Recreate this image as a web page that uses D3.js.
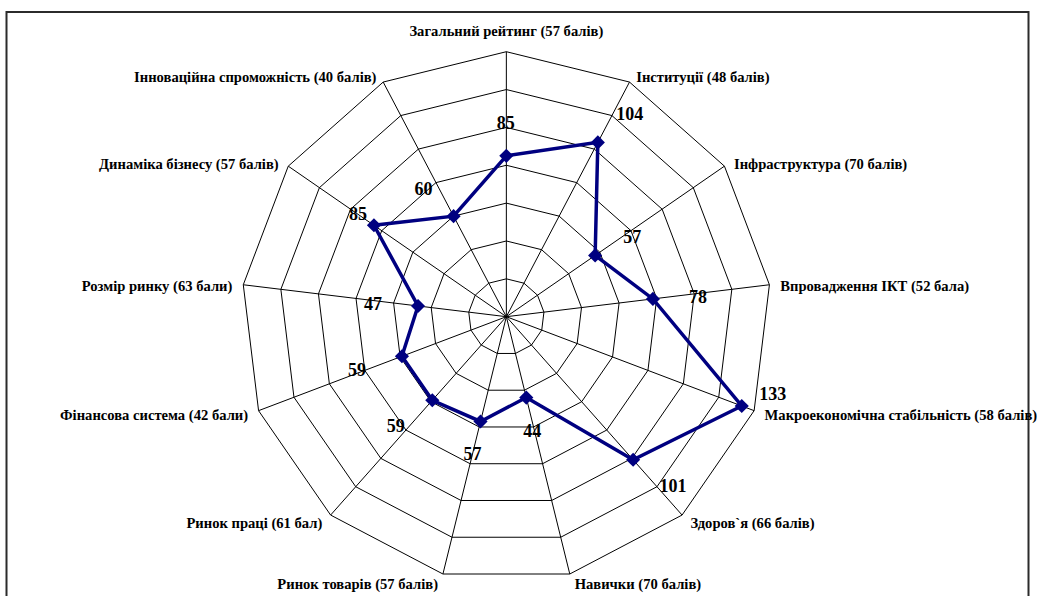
<!DOCTYPE html>
<html lang="uk">
<head>
<meta charset="utf-8">
<script src="https://cdn.jsdelivr.net/npm/d3@7"></script>
<style>
  html, body { margin: 0; padding: 0; background: #fff; }
  svg { display: block; }
  .axis-label { font-family: "Liberation Serif", "Times New Roman", serif; font-weight: bold; font-size: 14.6px; fill: #000; }
  .value-label { font-family: "Liberation Serif", "Times New Roman", serif; font-weight: bold; font-size: 18px; fill: #000; }
</style>
</head>
<body>
<svg id="chart" width="1037" height="596"></svg>
<script>
// Global Competitiveness Index pillars: Ukraine's rank per pillar
const categories = [
  "Загальний рейтинг (57 балів)",
  "Інституції (48 балів)",
  "Інфраструктура (70 балів)",
  "Впровадження ІКТ (52 бала)",
  "Макроекономічна стабільність (58 балів)",
  "Здоров`я (66 балів)",
  "Навички (70 балів)",
  "Ринок товарів (57 балів)",
  "Ринок праці (61 бал)",
  "Фінансова система (42 бали)",
  "Розмір ринку (63 бали)",
  "Динаміка бізнесу (57 балів)",
  "Інноваційна спроможність (40 балів)"
];
const values = [85, 104, 57, 78, 133, 101, 44, 57, 59, 59, 47, 85, 60];
const ringValues = [20, 40, 60, 80, 100, 120, 140];

// Layout
const cx = 506.35, cy = 316.7, R = 265;
// nudges for the value labels relative to their markers
const labelNudge = [
  [-0.5, -32.5], [32, -28], [37, -18], [45, -1.5], [31, -12], [40, 26], [6, 33],
  [-8, 32.5], [-36.5, 25.5], [-45, 14], [-45, -2], [-16, -11], [-30, -27]
];

const svg = d3.select("#chart");

// outer frame
svg.append("rect")
  .attr("x", 6.5).attr("y", 12)
  .attr("width", 1022).attr("height", 620)
  .attr("fill", "#fff")
  .attr("stroke", "#2b2b2b")
  .attr("stroke-width", 2);

const r = d3.scaleLinear().domain([0, d3.max(ringValues)]).range([0, R]);
const angle = d3.scalePoint().domain(d3.range(categories.length))
  .range([0, 2 * Math.PI * (categories.length - 1) / categories.length]);

const g = svg.append("g").attr("transform", `translate(${cx},${cy})`);

const radial = d3.lineRadial()
  .angle(d => angle(d.i))
  .radius(d => r(d.v))
  .curve(d3.curveLinearClosed);

// grid rings
g.append("g").selectAll("path")
  .data(ringValues)
  .join("path")
  .attr("d", v => radial(categories.map((c, i) => ({ i, v }))))
  .attr("fill", "none")
  .attr("stroke", "#000")
  .attr("stroke-width", 1);

// spokes
const pt = (i, v) => {
  const a = angle(i);
  return [r(v) * Math.sin(a), -r(v) * Math.cos(a)];
};
g.append("g").selectAll("line")
  .data(categories)
  .join("line")
  .attr("x1", 0).attr("y1", 0)
  .attr("x2", (c, i) => pt(i, d3.max(ringValues))[0])
  .attr("y2", (c, i) => pt(i, d3.max(ringValues))[1])
  .attr("stroke", "#000")
  .attr("stroke-width", 1);

// category labels around the outer ring
g.append("g").selectAll("text")
  .data(categories)
  .join("text")
  .attr("class", "axis-label")
  .each(function (c, i) {
    const a = angle(i);
    const s = Math.sin(a), co = Math.cos(a);
    const [vx, vy] = pt(i, d3.max(ringValues));
    const t = d3.select(this).text(c).attr("dominant-baseline", "central");
    if (Math.abs(s) < 1e-6) {
      t.attr("text-anchor", "middle").attr("x", vx).attr("y", vy - 21);
    } else {
      const dx = 3 + 8 * Math.abs(s);
      t.attr("text-anchor", s > 0 ? "start" : "end")
        .attr("x", vx + (s > 0 ? dx : -dx))
        .attr("y", vy + 2 - 8 * co);
    }
  });

// data series
const series = values.map((v, i) => ({ i, v }));
g.append("path")
  .attr("d", radial(series))
  .attr("fill", "none")
  .attr("stroke", "#000080")
  .attr("stroke-width", 3.5)
  .attr("stroke-linejoin", "miter");

g.append("g").selectAll("path")
  .data(series)
  .join("path")
  .attr("d", d3.symbol(d3.symbolSquare, 100))
  .attr("transform", d => {
    const [x, y] = pt(d.i, d.v);
    return `translate(${x},${y}) rotate(45)`;
  })
  .attr("fill", "#000080");

// value labels
g.append("g").selectAll("text")
  .data(series)
  .join("text")
  .attr("class", "value-label")
  .attr("text-anchor", "middle")
  .attr("dominant-baseline", "central")
  .attr("x", d => pt(d.i, d.v)[0] + labelNudge[d.i][0])
  .attr("y", d => pt(d.i, d.v)[1] + labelNudge[d.i][1])
  .text(d => d.v);
</script>
</body>
</html>
